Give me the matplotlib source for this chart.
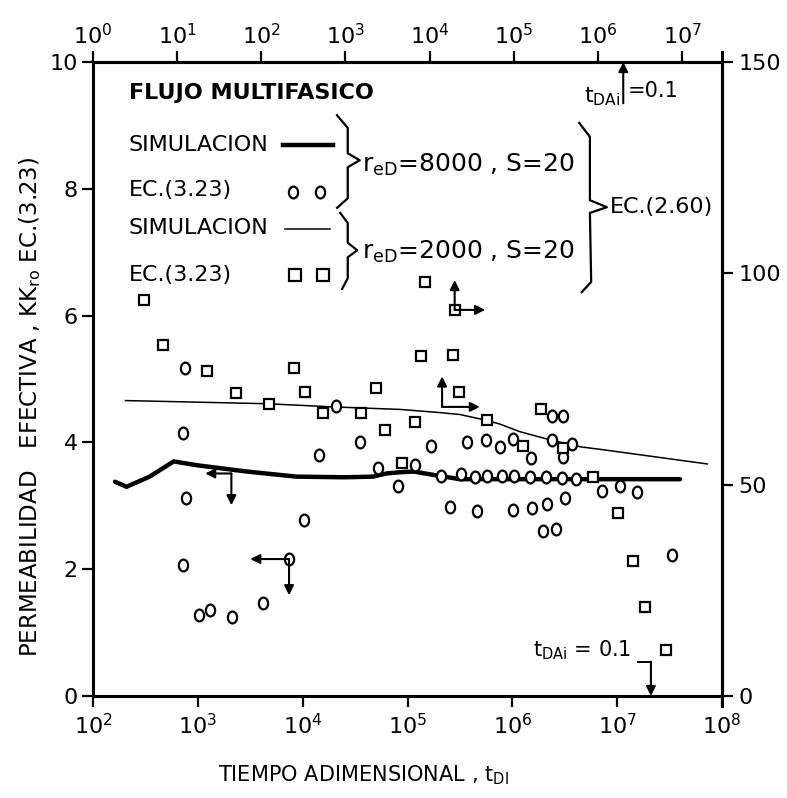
import numpy as np
import matplotlib.pyplot as plt
from matplotlib.markers import MarkerStyle
from matplotlib.transforms import Affine2D

plt.rcParams['font.family'] = ['DejaVu Sans']
plt.rcParams['mathtext.fontset'] = 'dejavusans'

# curva de simulacion r_eD = 8000 (linea gruesa), log10(tD) y KKro
sim8000_logt = [2.21, 2.32, 2.54, 2.77, 2.99, 3.47, 3.94, 4.40, 4.67, 4.80, 4.93, 5.06, 5.31, 5.50, 6.20, 7.60]
sim8000_k = [3.38, 3.30, 3.46, 3.70, 3.64, 3.54, 3.46, 3.45, 3.46, 3.51, 3.53, 3.54, 3.47, 3.42, 3.42, 3.42]

# curva de simulacion r_eD = 2000 (linea delgada)
sim2000_logt = [2.31, 3.66, 4.29, 4.93, 5.31, 5.50, 5.72, 5.88, 6.07, 6.36, 6.65, 6.84, 7.86]
sim2000_k = [4.66, 4.61, 4.56, 4.52, 4.47, 4.44, 4.36, 4.29, 4.17, 4.04, 3.93, 3.89, 3.66]

# EC.(3.23) r_eD = 8000 (circulos)
circ_logt = [2.88, 2.86, 2.89, 2.86, 3.01, 3.12, 3.33, 3.62, 3.87, 4.01, 4.16, 4.32, 4.55, 4.72,
             4.91, 5.07, 5.22, 5.57, 5.75, 5.88, 6.01, 6.18, 6.38, 6.57, 6.48, 6.38, 6.48,
             5.32, 5.51, 5.64, 5.76, 5.90, 6.02, 6.17, 6.32, 6.47, 6.61,
             6.86, 7.03, 7.19, 5.41, 5.66, 6.01, 6.19, 6.33, 6.50, 6.29, 6.42, 7.52]
circ_k = [5.17, 4.15, 3.12, 2.07, 1.27, 1.36, 1.24, 1.47, 2.16, 2.78, 3.80, 4.57, 4.00, 3.59,
          3.31, 3.64, 3.94, 4.00, 4.03, 3.93, 4.05, 3.76, 4.03, 3.97, 3.77, 4.42, 4.42,
          3.47, 3.50, 3.46, 3.47, 3.47, 3.47, 3.45, 3.45, 3.44, 3.43,
          3.24, 3.31, 3.21, 2.98, 2.92, 2.94, 2.97, 3.03, 3.12, 2.61, 2.63, 2.22]

# EC.(3.23) r_eD = 2000 (cuadros)
sq_logt = [2.49, 2.67, 3.09, 3.36, 3.68, 3.92, 4.02, 4.19, 4.56, 4.70, 4.79, 5.07, 5.13, 5.17,
           5.45, 5.43, 5.49, 5.76, 6.27, 6.10, 6.48, 4.95, 6.77, 7.01, 7.15, 7.27, 7.47]
sq_k = [6.24, 5.54, 5.12, 4.78, 4.61, 5.17, 4.80, 4.47, 4.47, 4.86, 4.20, 4.32, 5.37, 6.53,
        6.09, 5.38, 4.80, 4.36, 4.52, 3.94, 3.91, 3.68, 3.45, 2.89, 2.13, 1.41, 0.73]

bottom_ticks = [2, 3, 4, 5, 6, 7, 8]
top_ticks = [0, 1, 2, 3, 4, 5, 6, 7]
top_max = 7.475
left_ticks = [0, 2, 4, 6, 8, 10]
right_ticks = [0, 50, 100, 150]

W, H = 787, 798
fig = plt.figure(figsize=(W / 100, H / 100), dpi=100)
ax = fig.add_axes([93 / W, 102 / H, 629 / W, 634 / H])

ax.set_xscale('log')
ax.set_xlim(1e2, 1e8)
ax.set_ylim(0, 10)

ell = MarkerStyle('o', transform=Affine2D().scale(0.78, 1.0))
lw_sp = 2.2

ax.plot(10 ** np.array(sim8000_logt), sim8000_k, color='black', lw=3.2, solid_capstyle='round')
ax.plot(10 ** np.array(sim2000_logt), sim2000_k, color='black', lw=1.1)
ax.plot(10 ** np.array(circ_logt), circ_k, ls='none', marker=ell, ms=8.5, mfc='white',
        mec='black', mew=1.6)
ax.plot(10 ** np.array(sq_logt), sq_k, ls='none', marker='s', ms=7, mfc='white',
        mec='black', mew=1.6)

# ejes
for s in ax.spines.values():
    s.set_linewidth(lw_sp)
ax.set_xticks([10.0 ** e for e in bottom_ticks])
ax.set_xticklabels([r'$10^{%d}$' % e for e in bottom_ticks])
ax.xaxis.set_minor_locator(plt.NullLocator())
ax.set_yticks(left_ticks)
ax.set_yticklabels([str(v) for v in left_ticks])
ax.tick_params(axis='both', direction='out', length=8, width=1.6, labelsize=16, pad=4)
ax.tick_params(axis='y', pad=3)

k = top_max / 6.0


def fwd(x):
    x = np.clip(x, 1e-300, None)
    return 10 ** ((np.log10(x) - 2) * k)


def inv(u):
    u = np.clip(u, 1e-300, None)
    return 10 ** (np.log10(u) / k + 2)


top = ax.secondary_xaxis('top', functions=(fwd, inv))
top.set_xscale('log')
top.set_xticks([10.0 ** e for e in top_ticks])
top.set_xticklabels([r'$10^{%d}$' % e for e in top_ticks])
top.xaxis.set_minor_locator(plt.NullLocator())
top.tick_params(direction='out', length=8, width=1.6, labelsize=16, pad=2)
top.spines['top'].set_linewidth(lw_sp)

right = ax.secondary_yaxis('right', functions=(lambda y: y * 15, lambda y: y / 15))
right.set_yticks(right_ticks)
right.set_yticklabels([str(v) for v in right_ticks])
right.tick_params(direction='out', length=8, width=1.6, labelsize=16, pad=4)
right.spines['right'].set_linewidth(lw_sp)

# prolongaciones de las esquinas
T = ax.transAxes
ax.plot([1.0, 1.0], [1.0, 1.016], transform=T, color='k', lw=lw_sp, clip_on=False)
ax.plot([1.0, 1.0], [0.0, -0.016], transform=T, color='k', lw=lw_sp, clip_on=False)

# rotulos
fig.text(0.462, 0.028, r'TIEMPO ADIMENSIONAL , $\mathrm{t}_{\mathrm{DI}}$', ha='center',
         va='center', fontsize=15)
fig.text(0.038, 0.49, r'PERMEABILIDAD   EFECTIVA , $\mathrm{KK}_{\mathrm{ro}}$ EC.(3.23)',
         rotation=90, ha='center', va='center', fontsize=16.5)

# leyenda dibujada
fs = 16
ax.text(0.057, 0.951, 'FLUJO MULTIFASICO', transform=T, fontsize=16, fontweight='bold',
        ha='left', va='center')
ax.text(0.057, 0.869, 'SIMULACION', transform=T, fontsize=fs, ha='left', va='center')
ax.text(0.057, 0.798, 'EC.(3.23)', transform=T, fontsize=fs, ha='left', va='center')
ax.text(0.057, 0.738, 'SIMULACION', transform=T, fontsize=fs, ha='left', va='center')
ax.text(0.057, 0.664, 'EC.(3.23)', transform=T, fontsize=fs, ha='left', va='center')
ax.plot([0.302, 0.382], [0.869, 0.869], transform=T, color='k', lw=3.2)
ax.plot([0.305, 0.377], [0.737, 0.737], transform=T, color='k', lw=1.1)
ax.plot([0.318, 0.361], [0.795, 0.795], transform=T, ls='none', marker=ell, ms=8.5,
        mfc='white', mec='black', mew=1.6)
ax.plot([0.321, 0.366], [0.664, 0.664], transform=T, ls='none', marker='s', ms=8,
        mfc='white', mec='black', mew=1.6)

# llaves
brace1_x = [0.388, 0.405, 0.405, 0.424, 0.405, 0.405, 0.388]
brace1_y = [0.916, 0.896, 0.856, 0.845, 0.834, 0.785, 0.770]
brace2_x = [0.393, 0.405, 0.405, 0.420, 0.405, 0.405, 0.396]
brace2_y = [0.762, 0.746, 0.715, 0.703, 0.692, 0.659, 0.642]
brace3_x = [0.773, 0.790, 0.790, 0.817, 0.790, 0.792, 0.777]
brace3_y = [0.904, 0.882, 0.782, 0.771, 0.762, 0.653, 0.637]
for bx, by in [(brace1_x, brace1_y), (brace2_x, brace2_y), (brace3_x, brace3_y)]:
    ax.plot(bx, by, transform=T, color='k', lw=1.6)

ax.text(0.428, 0.837, r'$\mathrm{r}_{\mathrm{eD}}$=8000 , S=20', transform=T, fontsize=18,
        ha='left', va='center')
ax.text(0.428, 0.700, r'$\mathrm{r}_{\mathrm{eD}}$=2000 , S=20', transform=T, fontsize=18,
        ha='left', va='center')
ax.text(0.822, 0.771, 'EC.(2.60)', transform=T, fontsize=16, ha='left', va='center')

# t_DAi = 0.1 arriba
arr = dict(arrowstyle='-|>', color='k', lw=1.5, mutation_scale=14, shrinkA=0, shrinkB=0)
ax.annotate('', xy=(0.843, 1.0), xytext=(0.843, 0.935), xycoords=T, textcoords=T,
            arrowprops=arr)
ax.text(0.838, 0.946, r'$\mathrm{t}_{\mathrm{DAi}}$', transform=T, fontsize=16,
        ha='right', va='center')
ax.text(0.850, 0.955, '=0.1', transform=T, fontsize=15, ha='left', va='center')

# t_DAi = 0.1 abajo
ax.text(0.700, 0.072, r'$\mathrm{t}_{\mathrm{DAi}}$ = 0.1', transform=T, fontsize=15,
        ha='left', va='center')
ax.plot([0.866, 0.887], [0.054, 0.054], transform=T, color='k', lw=1.4)
ax.annotate('', xy=(0.887, 0.0), xytext=(0.887, 0.054), xycoords=T, textcoords=T,
            arrowprops=arr)


# flechas de lectura
def ell_arrow(x0, y0, x1, y1):
    ax.annotate('', xy=(x1, y1), xytext=(x0, y0), arrowprops=arr)


ell_arrow(10 ** 3.32, 3.51, 10 ** 3.07, 3.51)
ell_arrow(10 ** 3.32, 3.51, 10 ** 3.32, 3.01)
ell_arrow(10 ** 3.87, 2.16, 10 ** 3.50, 2.16)
ell_arrow(10 ** 3.87, 2.16, 10 ** 3.87, 1.59)
ell_arrow(10 ** 5.45, 6.09, 10 ** 5.45, 6.56)
ell_arrow(10 ** 5.45, 6.09, 10 ** 5.74, 6.09)
ell_arrow(10 ** 5.33, 4.56, 10 ** 5.33, 5.04)
ell_arrow(10 ** 5.33, 4.56, 10 ** 5.69, 4.56)

fig.savefig('out.png', dpi=100)
